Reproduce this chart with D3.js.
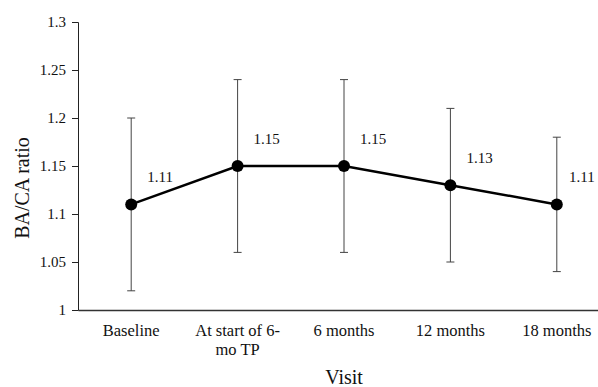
<!DOCTYPE html>
<html>
<head>
<meta charset="utf-8">
<script src="https://cdn.jsdelivr.net/npm/d3@7"></script>
<style>
  body { margin: 0; background: #fff; }
  text { font-family: "Liberation Serif", "Times New Roman", serif; fill: #111; }
</style>
</head>
<body>
<div class="canvas"></div>
<script>
// data
const visits = ['Baseline', 'At start of 6-|mo TP', '6 months', '12 months', '18 months'];
const ratio = [1.11, 1.15, 1.15, 1.13, 1.11];
const lower = [1.02, 1.06, 1.06, 1.05, 1.04];
const upper = [1.20, 1.24, 1.24, 1.21, 1.18];
const yTicks = [1, 1.05, 1.1, 1.15, 1.2, 1.25, 1.3];

const width = 598;
const height = 387;
const margin = { top: 22, right: -12, bottom: 77, left: 78 };
const graphWidth = width - margin.left - margin.right;
const graphHeight = height - margin.top - margin.bottom;

const svg = d3.select('.canvas')
  .append('svg')
  .attr('width', width)
  .attr('height', height);

const graph = svg.append('g')
  .attr('transform', `translate(${margin.left}, ${margin.top})`);

// scales
const x = d3.scaleBand()
  .domain(visits)
  .range([0, graphWidth]);

const y = d3.scaleLinear()
  .domain([1, 1.3])
  .range([graphHeight, 0]);

const data = visits.map((v, i) => ({ visit: v, value: ratio[i], lo: lower[i], hi: upper[i] }));
const cx = d => x(d.visit) + x.bandwidth() / 2;

// y axis
const yAxisGroup = graph.append('g')
  .call(d3.axisLeft(y).tickValues(yTicks).tickSize(6).tickPadding(6).tickFormat(d3.format('')));
yAxisGroup.select('.domain').attr('stroke', '#222');
yAxisGroup.selectAll('.tick line').attr('stroke', '#222');
yAxisGroup.selectAll('text')
  .style('font-size', '15px')
  .attr('fill', '#111');

// x axis
const xAxisGroup = graph.append('g')
  .attr('transform', `translate(0, ${graphHeight})`)
  .call(d3.axisBottom(x).tickSize(0).tickFormat(''));
xAxisGroup.select('.domain').attr('stroke', '#333').attr('stroke-width', 1.5);

xAxisGroup.selectAll('.tick').each(function (d) {
  const t = d3.select(this).append('text')
    .attr('text-anchor', 'middle')
    .attr('y', 26)
    .style('font-size', '16.5px');
  d.split('|').forEach((part, i) => {
    t.append('tspan')
      .attr('x', 0)
      .attr('dy', i === 0 ? 0 : 19)
      .text(part);
  });
});

// error bars
const cap = 4;
const bars = graph.selectAll('.err').data(data).enter().append('g').attr('class', 'err')
  .attr('stroke', '#444').attr('stroke-width', 1);
bars.append('line')
  .attr('x1', cx).attr('x2', cx)
  .attr('y1', d => y(d.lo)).attr('y2', d => y(d.hi));
bars.append('line')
  .attr('x1', d => cx(d) - cap).attr('x2', d => cx(d) + cap)
  .attr('y1', d => y(d.hi)).attr('y2', d => y(d.hi));
bars.append('line')
  .attr('x1', d => cx(d) - cap).attr('x2', d => cx(d) + cap)
  .attr('y1', d => y(d.lo)).attr('y2', d => y(d.lo));

// line
const line = d3.line().x(cx).y(d => y(d.value));
graph.append('path')
  .datum(data)
  .attr('fill', 'none')
  .attr('stroke', '#000')
  .attr('stroke-width', 2.5)
  .attr('d', line);

// points
graph.selectAll('circle').data(data).enter().append('circle')
  .attr('cx', cx)
  .attr('cy', d => y(d.value))
  .attr('r', 6)
  .attr('fill', '#000');

// data labels (kept inside the right edge)
graph.selectAll('.lbl').data(data).enter().append('text')
  .attr('class', 'lbl')
  .attr('x', d => Math.min(cx(d) + 16, width - margin.left - 29))
  .attr('y', d => y(d.value) - 22)
  .style('font-size', '15px')
  .text(d => d3.format('.2f')(d.value));

// axis titles
svg.append('text')
  .attr('text-anchor', 'middle')
  .attr('transform', `translate(29, ${margin.top + graphHeight / 2 + 22}) rotate(-90)`)
  .style('font-size', '20px')
  .text('BA/CA ratio');

svg.append('text')
  .attr('text-anchor', 'middle')
  .attr('x', 344)
  .attr('y', 384)
  .style('font-size', '20px')
  .text('Visit');
</script>
</body>
</html>
